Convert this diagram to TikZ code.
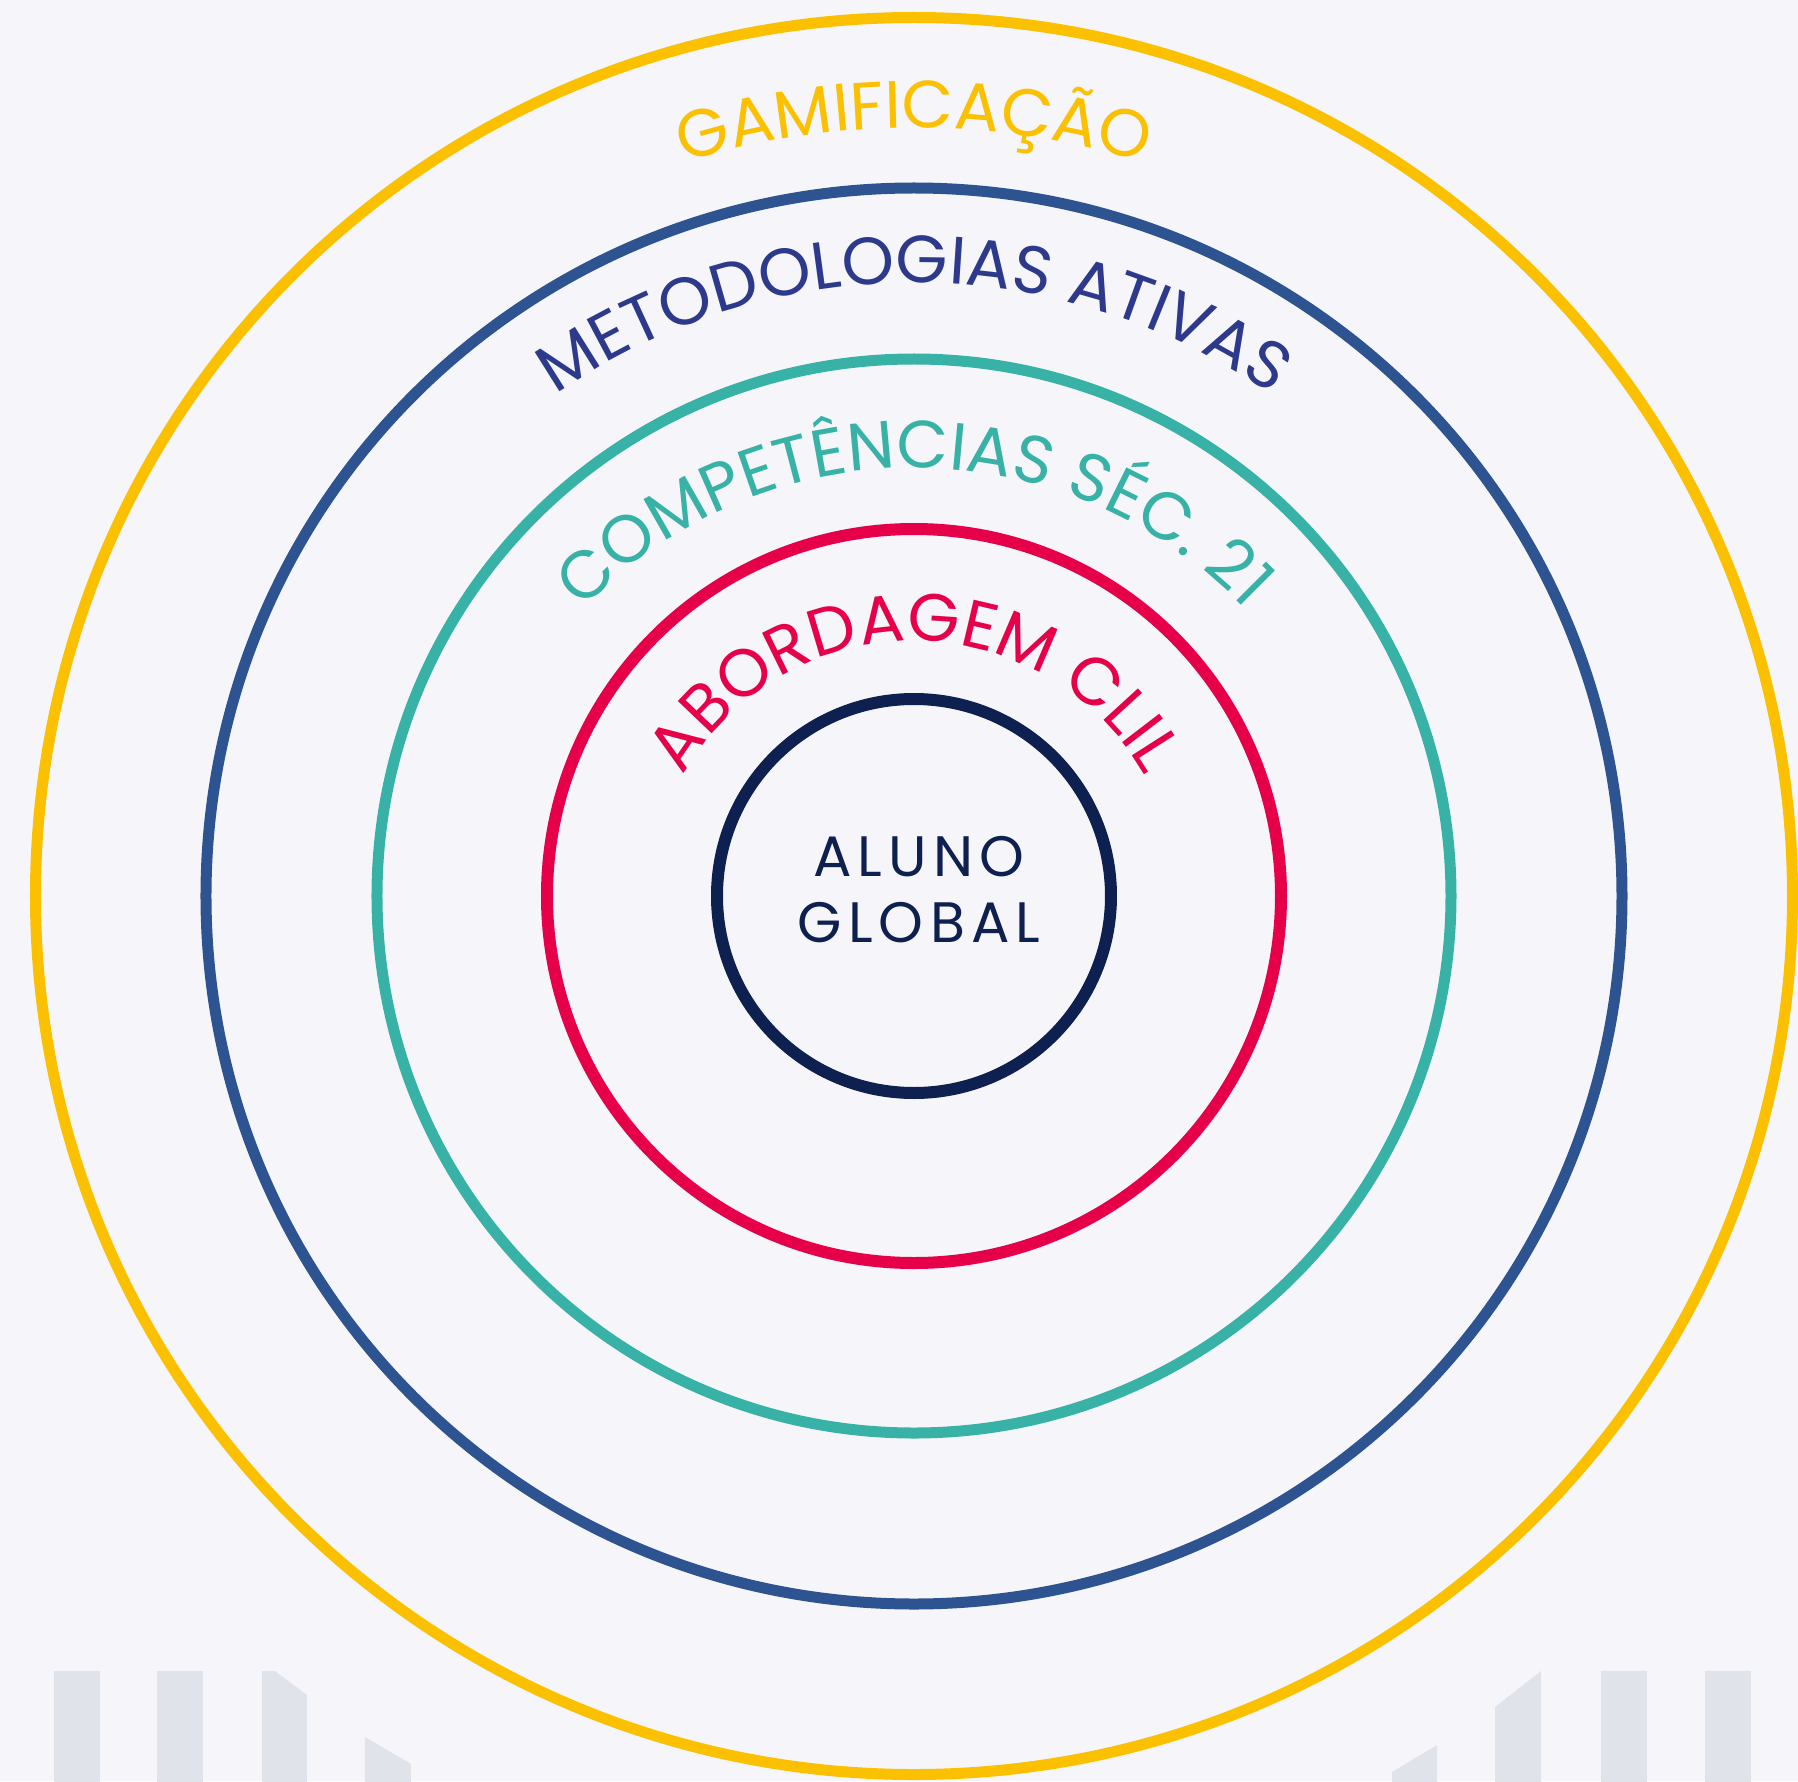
\documentclass[tikz,border=0pt]{standalone}
\usepackage{fontspec}
\setmainfont{Poppins}
\usetikzlibrary{decorations.text}

\definecolor{bgcol}{HTML}{F6F6FA}
\definecolor{barcol}{HTML}{E1E3EB}
\definecolor{gamyellow}{HTML}{FBC000}
\definecolor{metblue}{HTML}{2E5391}
\definecolor{mettext}{HTML}{2D3A8C}
\definecolor{compteal}{HTML}{38B2A6}
\definecolor{abored}{HTML}{E60049}
\definecolor{alunonavy}{HTML}{0E2050}

\newcommand{\ringfont}{\fontsize{67}{80}\selectfont}
\newcommand{\alunofont}{\fontsize{57}{66}\selectfont\addfontfeatures{LetterSpace=11}}

\begin{document}
\begin{tikzpicture}[x = 1pt, y = 1pt]
	\fill[bgcol] (-914, -885) rectangle (884, 896);
	\useasboundingbox (-914, -885) rectangle (884, 896);

	\fill[barcol] (-860, -890) rectangle (-814, -775);
	\fill[barcol] (-757, -890) rectangle (-711, -775);
	\fill[barcol] (-652, -890) -- (-652, -775) -- (-639, -775) -- (-607, -799) -- (-607, -890) -- cycle;
	\fill[barcol] (-549, -890) -- (-549, -841) -- (-503, -868) -- (-503, -890) -- cycle;
	\fill[barcol] (478, -890) -- (478, -876) -- (523, -849) -- (523, -890) -- cycle;
	\fill[barcol] (581, -890) -- (581, -811) -- (627, -775) -- (627, -890) -- cycle;
	\fill[barcol] (687, -890) rectangle (733, -775);
	\fill[barcol] (791, -890) rectangle (837, -775);

	\draw[line width = 11pt, gamyellow] (0, 0) circle (878.5);
	\draw[line width = 11pt, metblue] (0, 0) circle (708);
	\draw[line width = 11pt, compteal] (0, 0) circle (537);
	\draw[line width = 12pt, abored] (0, 0) circle (367);
	\draw[line width = 12pt, alunonavy] (0, 0) circle (197);

	\path[decorate, decoration = {text along path, text align = center, text color = gamyellow, text = {|\ringfont|GAMIFICAÇÃO}}] (-768, 0) arc[start angle = 180, end angle = 0, radius = 768];
	\path[decorate, decoration = {text along path, text align = center, text color = mettext, text = {|\ringfont|METODOLOGIAS ATIVAS}}] (-628, -15) arc[start angle = 180, end angle = 0, radius = 628];
	\path[decorate, decoration = {text along path, text align = center, text color = compteal, text = {|\ringfont|COMPETÊNCIAS SÉC. 21}}] (-458, -30) arc[start angle = 180, end angle = 0, radius = 458];
	\path[decorate, decoration = {text along path, text align = center, text color = abored, text = {|\ringfont|ABORDAGEM CLIL}}] (-265, -10) arc[start angle = 180, end angle = 0, radius = 265];

	\node[font = \alunofont, text = alunonavy, align = center] (aluno) at (5, 6) {ALUNO\\GLOBAL};
\end{tikzpicture}
\end{document}
